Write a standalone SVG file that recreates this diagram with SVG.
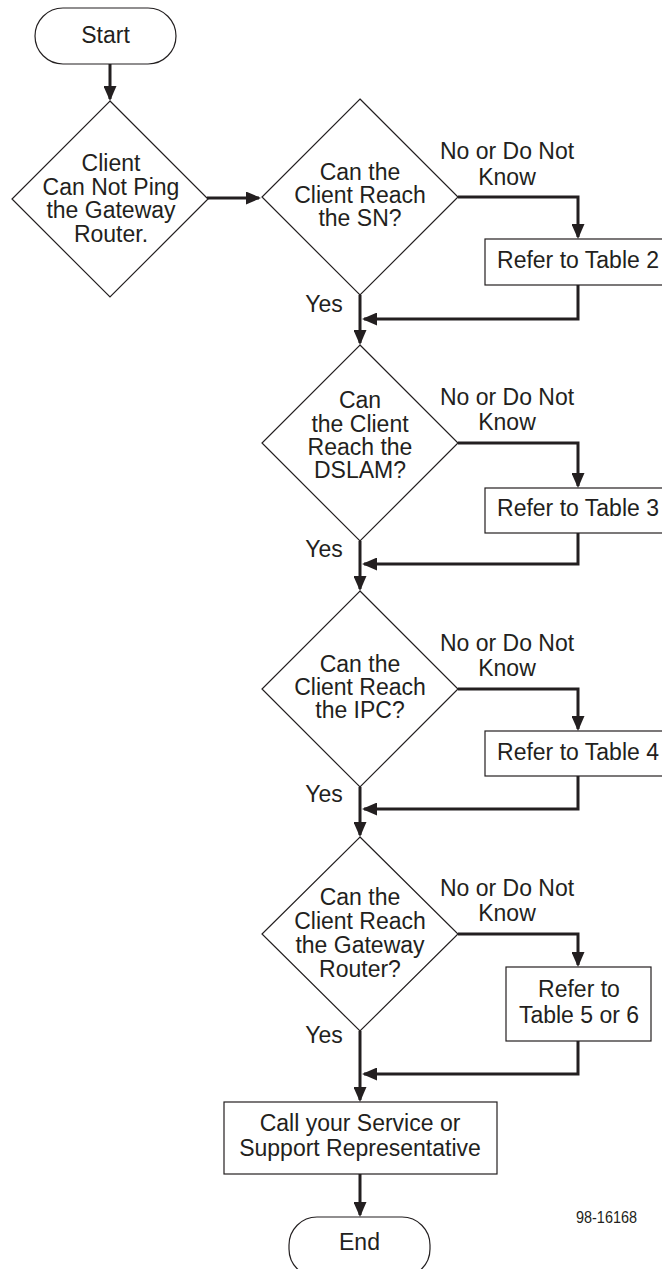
<svg xmlns="http://www.w3.org/2000/svg" width="662" height="1269" viewBox="0 0 662 1269">
<style>
.shape{fill:#fff;stroke:#231f20;stroke-width:1.2}
.conn{fill:none;stroke:#231f20;stroke-width:3;stroke-linejoin:miter}
.t{font-family:"Liberation Sans",Arial,sans-serif;font-size:23px;fill:#231f20;text-anchor:middle}
.id{font-family:"Liberation Sans Narrow","Liberation Sans",Arial,sans-serif;font-size:17px;fill:#231f20}
</style>
<defs>
<marker id="arr" viewBox="0 0 15 13" refX="13" refY="6.5" markerWidth="15" markerHeight="13" markerUnits="userSpaceOnUse" orient="auto">
<path d="M0,0 L15,6.5 L0,13 z" fill="#231f20"/>
</marker>
</defs>
<g id="connectors">
<line class="conn" x1="110" y1="64" x2="110" y2="99" marker-end="url(#arr)"/>
<line class="conn" x1="207" y1="198" x2="259" y2="198" marker-end="url(#arr)"/>
<polyline class="conn" points="458,197 578,197 578,237" marker-end="url(#arr)"/>
<polyline class="conn" points="578,285 578,319 364,319" marker-end="url(#arr)"/>
<line class="conn" x1="360" y1="295" x2="360" y2="343" marker-end="url(#arr)"/>
<polyline class="conn" points="458,443 578,443 578,486" marker-end="url(#arr)"/>
<polyline class="conn" points="578,533 578,564 364,564" marker-end="url(#arr)"/>
<line class="conn" x1="360" y1="541" x2="360" y2="589" marker-end="url(#arr)"/>
<polyline class="conn" points="458,689 578,689 578,729" marker-end="url(#arr)"/>
<polyline class="conn" points="578,776 578,809 364,809" marker-end="url(#arr)"/>
<line class="conn" x1="360" y1="787" x2="360" y2="835" marker-end="url(#arr)"/>
<polyline class="conn" points="458,934 578,934 578,965" marker-end="url(#arr)"/>
<polyline class="conn" points="578,1041 578,1074 364,1074" marker-end="url(#arr)"/>
<line class="conn" x1="360" y1="1031" x2="360" y2="1100" marker-end="url(#arr)"/>
<line class="conn" x1="360" y1="1174" x2="360" y2="1215" marker-end="url(#arr)"/>
<text class="t" x="507" y="159">No or Do Not</text>
<text class="t" x="507" y="185">Know</text>
<text class="t" x="324" y="312">Yes</text>
<text class="t" x="507" y="405">No or Do Not</text>
<text class="t" x="507" y="430">Know</text>
<text class="t" x="324" y="557">Yes</text>
<text class="t" x="507" y="651">No or Do Not</text>
<text class="t" x="507" y="676">Know</text>
<text class="t" x="324" y="802">Yes</text>
<text class="t" x="507" y="896">No or Do Not</text>
<text class="t" x="507" y="921">Know</text>
<text class="t" x="324" y="1043">Yes</text>
</g>
<g id="start">
<rect class="shape" x="35" y="8" width="141" height="56" rx="28" ry="28"/>
<text class="t" x="105.5" y="43">Start</text>
</g>
<g id="d1">
<polygon class="shape" points="110,101 208,199 110,297 12,199"/>
<text class="t" x="111" y="171">Client</text>
<text class="t" x="111" y="195">Can Not Ping</text>
<text class="t" x="111" y="218">the Gateway</text>
<text class="t" x="111" y="242">Router.</text>
</g>
<g id="d2">
<polygon class="shape" points="360,99 458,197 360,295 262,197"/>
<text class="t" x="360" y="180">Can the</text>
<text class="t" x="360" y="203">Client Reach</text>
<text class="t" x="360" y="226">the SN?</text>
</g>
<g id="b2">
<rect class="shape" x="485" y="239" width="190" height="46"/>
<text class="t" x="578" y="268">Refer to Table 2</text>
</g>
<g id="d3">
<polygon class="shape" points="360,345 458,443 360,541 262,443"/>
<text class="t" x="360" y="408">Can</text>
<text class="t" x="360" y="432">the Client</text>
<text class="t" x="360" y="455">Reach the</text>
<text class="t" x="360" y="478">DSLAM?</text>
</g>
<g id="b3">
<rect class="shape" x="485" y="488" width="190" height="45"/>
<text class="t" x="578" y="516">Refer to Table 3</text>
</g>
<g id="d4">
<polygon class="shape" points="360,591 458,689 360,787 262,689"/>
<text class="t" x="360" y="672">Can the</text>
<text class="t" x="360" y="695">Client Reach</text>
<text class="t" x="360" y="718">the IPC?</text>
</g>
<g id="b4">
<rect class="shape" x="485" y="731" width="190" height="45"/>
<text class="t" x="578" y="760">Refer to Table 4</text>
</g>
<g id="d5">
<polygon class="shape" points="360,837 458,934 360,1031 262,934"/>
<text class="t" x="360" y="905">Can the</text>
<text class="t" x="360" y="929">Client Reach</text>
<text class="t" x="360" y="953">the Gateway</text>
<text class="t" x="360" y="977">Router?</text>
</g>
<g id="b5">
<rect class="shape" x="506" y="967" width="145" height="74"/>
<text class="t" x="579" y="997">Refer to</text>
<text class="t" x="579" y="1023">Table 5 or 6</text>
</g>
<g id="call">
<rect class="shape" x="224" y="1102" width="273" height="72"/>
<text class="t" x="360" y="1131">Call your Service or</text>
<text class="t" x="360" y="1156">Support Representative</text>
</g>
<g id="end">
<rect class="shape" x="289" y="1217" width="141" height="60" rx="28" ry="28"/>
<text class="t" x="359.5" y="1250">End</text>
</g>
<text class="id" x="576" y="1223" textLength="61" lengthAdjust="spacingAndGlyphs">98-16168</text>
</svg>
